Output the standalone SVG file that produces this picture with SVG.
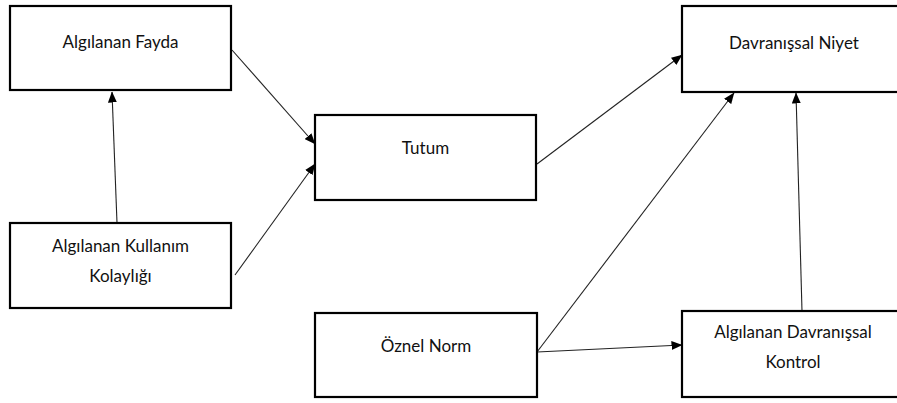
<svg xmlns="http://www.w3.org/2000/svg" width="897" height="403" viewBox="0 0 897 403">
<defs>
<marker id="ah" markerWidth="11" markerHeight="9" refX="10.5" refY="4.5" orient="auto" markerUnits="userSpaceOnUse">
<path d="M0,0 L11,4.5 L0,9 z" fill="#000"/>
</marker>
<style>
.box{fill:#fff;stroke:#000;stroke-width:2.2}
.lbl{font-family:Lato,"Liberation Sans",Arial,sans-serif;font-size:17px;fill:#111;text-anchor:middle}
.ln{stroke:#222;stroke-width:1.1;fill:none;marker-end:url(#ah)}
</style>
</defs>
<rect width="897" height="403" fill="#fff"/>
<g id="connectors">
<line class="ln" x1="232" y1="50" x2="315" y2="144"/>
<line class="ln" x1="235" y1="275" x2="315" y2="164"/>
<line class="ln" x1="117" y1="223" x2="112" y2="92"/>
<line class="ln" x1="537" y1="164" x2="682" y2="55"/>
<line class="ln" x1="537" y1="352" x2="734" y2="93"/>
<line class="ln" x1="537" y1="352" x2="682" y2="345"/>
<line class="ln" x1="802" y1="311" x2="796" y2="93"/>
</g>
<g id="fayda">
<rect class="box" x="10" y="6" width="221" height="84"/>
<text class="lbl" x="120.5" y="48">Algılanan Fayda</text>
</g>
<g id="kolaylik">
<rect class="box" x="10" y="223" width="221" height="85"/>
<text class="lbl" x="120.5" y="252">Algılanan Kullanım</text>
<text class="lbl" x="120.5" y="282">Kolaylığı</text>
</g>
<g id="tutum">
<rect class="box" x="315" y="115" width="221" height="85"/>
<text class="lbl" x="425.5" y="154">Tutum</text>
</g>
<g id="oznel">
<rect class="box" x="315" y="313" width="222" height="84"/>
<text class="lbl" x="426" y="352">Öznel Norm</text>
</g>
<g id="niyet">
<rect class="box" x="682" y="6" width="222" height="86"/>
<text class="lbl" x="794" y="49">Davranışsal Niyet</text>
</g>
<g id="adk">
<rect class="box" x="682" y="311" width="222" height="86"/>
<text class="lbl" x="793" y="338">Algılanan Davranışsal</text>
<text class="lbl" x="793" y="368">Kontrol</text>
</g>
</svg>
